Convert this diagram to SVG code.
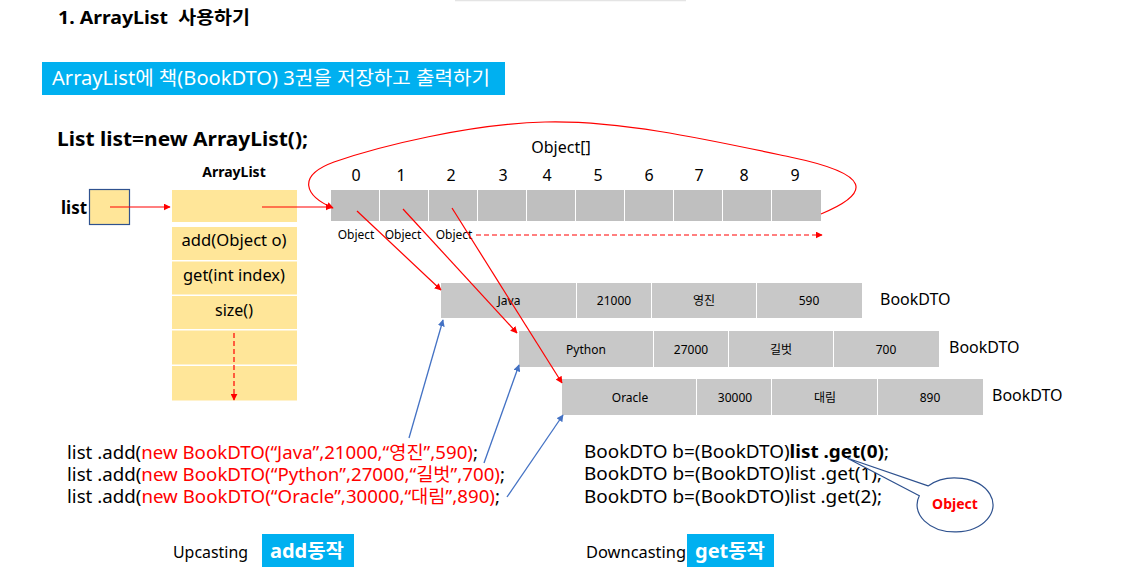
<svg xmlns="http://www.w3.org/2000/svg" width="1141" height="574" viewBox="0 0 1141 574">
<defs>
<marker id="ar" viewBox="0 0 10 10" refX="9" refY="5" markerWidth="7" markerHeight="7" orient="auto-start-reverse" markerUnits="userSpaceOnUse"><path d="M0,0 L10,5 L0,10 Z" fill="#FF0000"/></marker>
<marker id="ab" viewBox="0 0 10 10" refX="9" refY="5" markerWidth="7" markerHeight="7" orient="auto" markerUnits="userSpaceOnUse"><path d="M0,0 L10,5 L0,10 Z" fill="#4472C4"/></marker>
</defs>
<style>
text{font-family:"Noto Sans","Noto Sans CJK KR",sans-serif;}
.b{font-weight:bold;}
.yc{fill:#FFE699;}
.gc{fill:#C8C8C8;}
.ac{fill:#BFBFBF;}
.red{stroke:#FF0000;stroke-width:1.2;fill:none;}
.blue{stroke:#4472C4;stroke-width:1.3;fill:none;}
.ban{fill:#00B0F0;}
.cell{font-size:12px;text-anchor:middle;}
.idx{font-size:16px;text-anchor:middle;}
.code{font-size:18px;}
.r{fill:#FF0000;}
</style>
<rect width="1141" height="574" fill="#fff"/>
<line x1="455" y1="0.5" x2="686" y2="0.5" stroke="#e4e4e4" stroke-width="1.5"/>

<g id="title">
<text x="58" y="24" font-size="18" class="b" xml:space="preserve" textLength="192" lengthAdjust="spacingAndGlyphs">1. ArrayList  사용하기</text>
</g>
<g id="banner">
<rect x="42" y="62" width="463" height="33" class="ban"/>
<text x="52" y="85" font-size="19" fill="#fff" textLength="438" lengthAdjust="spacingAndGlyphs">ArrayList에 책(BookDTO) 3권을 저장하고 출력하기</text>
</g>
<g id="decl">
<text x="57" y="146" font-size="20" class="b" textLength="251" lengthAdjust="spacingAndGlyphs">List list=new ArrayList();</text>
</g>

<g id="listvar">
<text x="61" y="214" font-size="17" class="b">list</text>
<rect x="89.5" y="189.5" width="40" height="35" class="yc" stroke="#2F528F" stroke-width="1.2"/>
</g>

<g id="arraylist">
<text x="234" y="177" font-size="14" class="b" text-anchor="middle">ArrayList</text>
<rect x="172" y="190" width="125" height="32" class="yc"/>
<rect x="172" y="227" width="125" height="33" class="yc"/>
<rect x="172" y="261.5" width="125" height="33" class="yc"/>
<rect x="172" y="296" width="125" height="33" class="yc"/>
<rect x="172" y="330.5" width="125" height="34" class="yc"/>
<rect x="172" y="366" width="125" height="34.5" class="yc"/>
<text x="234" y="246" font-size="16" text-anchor="middle" textLength="105" lengthAdjust="spacingAndGlyphs">add(Object o)</text>
<text x="234" y="281" font-size="16" text-anchor="middle" textLength="102" lengthAdjust="spacingAndGlyphs">get(int index)</text>
<text x="234" y="316" font-size="16" text-anchor="middle">size()</text>
</g>

<g id="objarray">
<text x="561" y="153" font-size="16" text-anchor="middle">Object[]</text>
<g class="idx">
<text x="356" y="181">0</text><text x="401" y="181">1</text><text x="451" y="181">2</text><text x="503" y="181">3</text><text x="547" y="181">4</text><text x="598" y="181">5</text><text x="649" y="181">6</text><text x="699" y="181">7</text><text x="744" y="181">8</text><text x="795" y="181">9</text>
</g>
<rect x="331" y="190" width="48" height="31" class="ac"/>
<rect x="380" y="190" width="48" height="31" class="ac"/>
<rect x="429" y="190" width="48" height="31" class="ac"/>
<rect x="478" y="190" width="48" height="31" class="ac"/>
<rect x="527" y="190" width="48" height="31" class="ac"/>
<rect x="576" y="190" width="48" height="31" class="ac"/>
<rect x="625" y="190" width="48" height="31" class="ac"/>
<rect x="674" y="190" width="48" height="31" class="ac"/>
<rect x="723" y="190" width="48" height="31" class="ac"/>
<rect x="772" y="190" width="49" height="31" class="ac"/>
<text x="356" y="239" font-size="12" text-anchor="middle">Object</text>
<text x="403" y="239" font-size="12" text-anchor="middle">Object</text>
<text x="454" y="239" font-size="12" text-anchor="middle">Object</text>
</g>

<g id="java">
<rect x="441" y="283" width="135" height="35" class="gc"/>
<rect x="577" y="283" width="74" height="35" class="gc"/>
<rect x="652" y="283" width="104" height="35" class="gc"/>
<rect x="757" y="283" width="105" height="35" class="gc"/>
<text x="509" y="305" class="cell">Java</text>
<text x="614" y="305" class="cell">21000</text>
<text x="704" y="305" class="cell">영진</text>
<text x="809" y="305" class="cell">590</text>
<text x="880" y="305" font-size="16">BookDTO</text>
</g>
<g id="python">
<rect x="519" y="331" width="134" height="36" class="gc"/>
<rect x="654" y="331" width="74" height="36" class="gc"/>
<rect x="729" y="331" width="104" height="36" class="gc"/>
<rect x="834" y="331" width="105" height="36" class="gc"/>
<text x="586" y="354" class="cell">Python</text>
<text x="691" y="354" class="cell">27000</text>
<text x="781" y="354" class="cell">길벗</text>
<text x="886" y="354" class="cell">700</text>
<text x="949" y="353" font-size="16">BookDTO</text>
</g>
<g id="oracle">
<rect x="562" y="379" width="134" height="36" class="gc"/>
<rect x="697" y="379" width="74" height="36" class="gc"/>
<rect x="772" y="379" width="105" height="36" class="gc"/>
<rect x="878" y="379" width="105" height="36" class="gc"/>
<text x="630" y="402" class="cell">Oracle</text>
<text x="735" y="402" class="cell">30000</text>
<text x="825" y="402" class="cell">대림</text>
<text x="930" y="402" class="cell">890</text>
<text x="992" y="401" font-size="16">BookDTO</text>
</g>

<g id="connectors">
<line x1="110" y1="207" x2="170" y2="207" class="red" marker-end="url(#ar)"/>
<line x1="262" y1="207" x2="332" y2="207" class="red" marker-end="url(#ar)"/>
<path d="M821,214 C872,193 872,174 790,157 C710,140 620,120 545,122 C470,124 380,146 334,162 C296,176 305,196 333,208" class="red" marker-end="url(#ar)"/>
<line x1="234" y1="333" x2="234" y2="400" class="red" stroke-dasharray="5,3" marker-end="url(#ar)"/>
<line x1="476" y1="235" x2="822" y2="235" class="red" stroke-dasharray="5,3" marker-end="url(#ar)"/>
<line x1="357" y1="211" x2="441" y2="290" class="red" marker-end="url(#ar)"/>
<line x1="403" y1="209" x2="517" y2="333" class="red" marker-end="url(#ar)"/>
<line x1="452" y1="208" x2="562" y2="383" class="red" marker-end="url(#ar)"/>
<line x1="409" y1="438" x2="443" y2="320" class="blue" marker-end="url(#ab)"/>
<line x1="484" y1="463" x2="519" y2="365" class="blue" marker-end="url(#ab)"/>
<line x1="507" y1="497" x2="563" y2="415" class="blue" marker-end="url(#ab)"/>
</g>

<g id="addcode" class="code">
<text x="67" y="459" textLength="411" lengthAdjust="spacingAndGlyphs">list .add(<tspan class="r">new BookDTO(“Java”,21000,“영진”,590)</tspan>;</text>
<text x="67" y="481" textLength="438" lengthAdjust="spacingAndGlyphs">list .add(<tspan class="r">new BookDTO(“Python”,27000,“길벗”,700)</tspan>;</text>
<text x="67" y="503" textLength="433" lengthAdjust="spacingAndGlyphs">list .add(<tspan class="r">new BookDTO(“Oracle”,30000,“대림”,890)</tspan>;</text>
</g>

<g id="getcode" class="code">
<text x="584" y="458" textLength="305" lengthAdjust="spacingAndGlyphs">BookDTO b=(BookDTO)<tspan class="b">list .get(0)</tspan>;</text>
<text x="584" y="480" textLength="298" lengthAdjust="spacingAndGlyphs">BookDTO b=(BookDTO)list .get(1);</text>
<text x="584" y="503" textLength="298" lengthAdjust="spacingAndGlyphs">BookDTO b=(BookDTO)list .get(2);</text>
</g>

<g id="callout">
<path d="M928.1,485.9 L847,458 L919.3,495.8 A38 27 0 1 0 928.1,485.9 Z" fill="#fff" stroke="#2F528F" stroke-width="1.2"/>
<text x="955" y="509" font-size="14" class="b r" text-anchor="middle">Object</text>
</g>

<g id="upcast">
<text x="173" y="558" font-size="15.5" textLength="75" lengthAdjust="spacingAndGlyphs">Upcasting</text>
<rect x="262" y="534" width="92" height="33" class="ban"/>
<text x="270" y="558" font-size="19" class="b" fill="#fff" textLength="74" lengthAdjust="spacingAndGlyphs">add동작</text>
</g>
<g id="downcast">
<text x="586" y="558" font-size="15.5" textLength="100" lengthAdjust="spacingAndGlyphs">Downcasting</text>
<rect x="687" y="534" width="87" height="33" class="ban"/>
<text x="695" y="558" font-size="19" class="b" fill="#fff" textLength="70" lengthAdjust="spacingAndGlyphs">get동작</text>
</g>
</svg>
